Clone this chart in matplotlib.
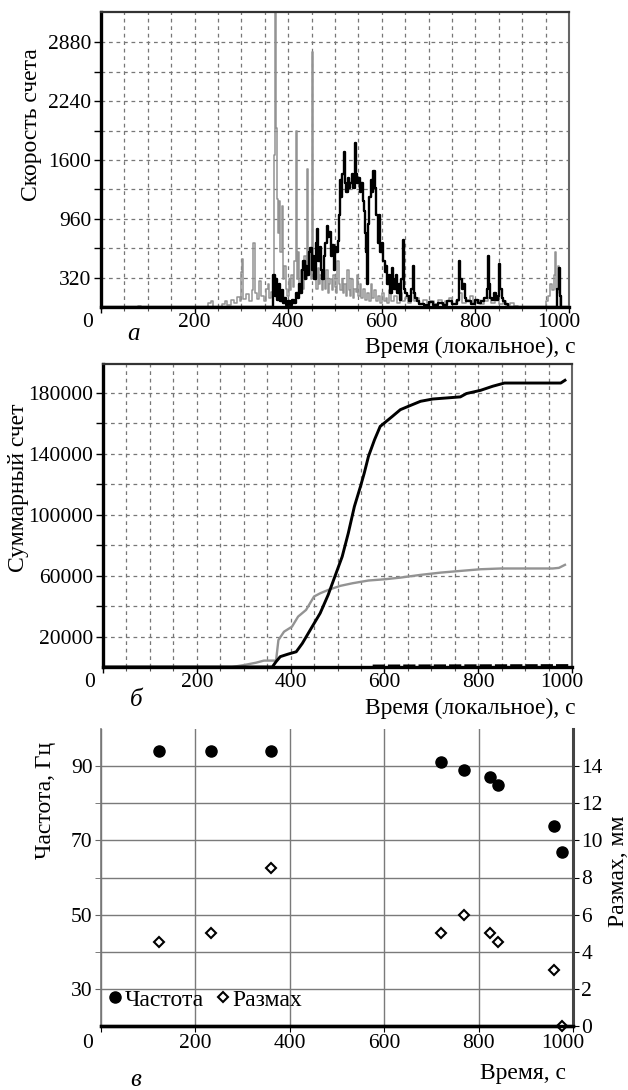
import matplotlib
matplotlib.use("Agg")
import matplotlib.pyplot as plt
import matplotlib.transforms as mtransforms

plt.rcParams['font.family'] = ['Liberation Serif', 'DejaVu Serif']
plt.rcParams['font.size'] = 15.5

# ---- panel a: count rate (gray and black detectors) ----
gray_t = [0, 80, 86, 228, 234, 240, 258, 265, 270, 278, 284, 290, 296, 300, 302, 304, 310, 316,
          322, 325, 328, 334, 338, 342, 348, 352, 356, 360, 364, 368, 370, 372, 373, 375, 378,
          380, 383, 386, 389, 392, 395, 398, 401, 404, 407, 410, 413, 416, 418, 421, 424, 428,
          431, 434, 437, 440, 442, 445, 448, 450, 452, 454, 457, 460, 463, 466, 469, 472, 475,
          478, 481, 484, 487, 490, 493, 496, 499, 502, 505, 508, 511, 514, 517, 520, 523, 526,
          529, 532, 535, 538, 541, 544, 547, 550, 553, 556, 560, 564, 568, 572, 576, 580, 584,
          588, 592, 596, 600, 604, 608, 612, 616, 620, 626, 632, 638, 644, 650, 656, 662, 668,
          674, 680, 688, 696, 704, 712, 720, 728, 736, 744, 750, 758, 766, 772, 780, 788, 794,
          802, 810, 818, 826, 834, 842, 850, 858, 866, 874, 882, 890, 950, 955, 960, 964, 968,
          971, 973, 976, 978, 981, 1000]
gray_v = [0, 15, 0, 40, 60, 0, 30, 60, 20, 80, 40, 110, 60, 380, 520, 90, 140, 60,
          180, 700, 150, 90, 280, 120, 60, 200, 250, 100, 160, 300, 1650, 3300, 1950, 1180, 800,
          1150, 600, 1100, 300, 450, 200, 120, 300, 180, 350, 220, 500, 1920, 300, 600, 250, 400,
          200, 550, 300, 1500, 400, 600, 300, 2780, 1850, 500, 350, 200, 420, 250, 350, 180, 300,
          200, 400, 150, 250, 300, 180, 350, 220, 150, 500, 250, 180, 300, 150, 250, 120, 400,
          180, 120, 300, 100, 200, 160, 350, 120, 250, 100, 200, 80, 150, 60, 250, 100, 180,
          60, 120, 40, 150, 60, 100, 40, 180, 60, 120, 40, 150, 60, 100, 40, 150, 60,
          100, 30, 80, 40, 60, 30, 80, 30, 60, 100, 30, 60, 150, 40, 80, 120, 40,
          80, 30, 60, 100, 40, 80, 30, 60, 20, 40, 10, 0, 60, 120, 250, 180, 350,
          600, 200, 450, 150, 0, 0]

black_t = [0, 368, 371, 374, 377, 380, 383, 386, 389, 392, 396, 400, 404, 408, 412, 416, 420,
           423, 426, 429, 432, 435, 438, 441, 444, 447, 450, 453, 456, 459, 461, 464, 467, 470,
           473, 476, 479, 482, 485, 488, 491, 494, 497, 500, 503, 506, 509, 511, 513, 516, 519,
           521, 524, 527, 530, 533, 536, 539, 542, 544, 547, 550, 553, 556, 559, 562, 564, 566,
           568, 570, 573, 576, 579, 582, 585, 588, 591, 594, 597, 600, 603, 606, 609, 612, 615,
           618, 621, 624, 627, 630, 633, 636, 639, 642, 645, 647, 650, 654, 658, 662, 666, 668,
           672, 676, 680, 690, 700, 710, 720, 730, 740, 750, 760, 766, 768, 771, 774, 777, 780,
           790, 800, 806, 812, 818, 824, 827, 829, 832, 836, 840, 844, 848, 851, 853, 856, 860,
           864, 870, 972, 975, 978, 980, 983, 1000]
black_v = [0, 350, 120, 300, 80, 250, 60, 180, 40, 100, 20, 60, 20, 80, 40, 150, 100,
           250, 150, 400, 500, 300, 450, 350, 600, 640, 400, 550, 300, 700, 850, 500, 650, 400,
           300, 550, 700, 880, 760, 820, 550, 680, 400, 650, 600, 720, 1000, 1380, 1200, 1450, 1690,
           1350, 1250, 1400, 1300, 1350, 1450, 1300, 1780, 1450, 1350, 1400, 1250, 1350, 1150, 1050, 800, 600,
           250, 900, 1200, 1380, 1250, 1480, 1300, 1000, 700, 1000, 600, 700, 500, 380, 450, 250, 350,
           150, 420, 300, 200, 350, 150, 250, 80, 300, 730, 200, 150, 120, 60, 200, 450, 150,
           100, 60, 30, 20, 50, 20, 40, 20, 60, 30, 80, 500, 300, 200, 250, 100, 60,
           30, 80, 40, 60, 100, 200, 550, 250, 100, 80, 150, 80, 120, 470, 200, 100, 60,
           30, 0, 0, 200, 420, 120, 0, 0]

# ---- panel b: cumulative counts ----
cum_black_t = [0, 361, 369, 378, 395, 412, 425, 446, 463, 480, 497, 510, 523, 536, 549, 557, 566,
               579, 591, 604, 617, 634, 651, 677, 703, 762, 775, 805, 831, 856, 976, 985]
cum_black_v = [0, 0, 3500, 6800, 8500, 10000, 15500, 26500, 35300, 47300, 61600, 72500, 87900,
               105400, 118600, 127300, 138300, 149300, 158000, 161300, 164600, 169000, 171200,
               174500, 176000, 177400, 179600, 181700, 184400, 186500, 186500, 188300]
cum_gray_t = [0, 275, 301, 326, 343, 369, 374, 386, 403, 416, 433, 450, 463, 480, 506, 532, 566,
              600, 634, 677, 720, 762, 805, 848, 959, 972, 985]
cum_gray_v = [0, 0, 1300, 2800, 4200, 4200, 17700, 23200, 26500, 33100, 37500, 46300, 48400,
              50600, 53300, 55000, 56800, 57600, 58700, 60500, 62000, 63100, 64200, 64700, 64700,
              65100, 67100]
cum_low_t = [575, 700, 850, 1000]
cum_low_v = [600, 700, 800, 900]

# ---- panel c: frequency and amplitude ----
meas_t = [123, 233, 361, 720, 770, 824, 841, 959, 977]
freq_hz = [94, 94, 94, 91, 89, 87, 85, 74, 67]
amp_mm = [4.5, 5.0, 8.5, 5.0, 6.0, 5.0, 4.5, 3.0, 0.0]

W, H = 628, 1090
GRAY = '#939393'
LAB = 17
fig = plt.figure(figsize=(W / 100, H / 100), dpi=100)


def px_axes(l, t, r, b):
    return fig.add_axes([l / W, 1 - b / H, (r - l) / W, (b - t) / H])


def fig_text(x, y, s, **kw):
    fig.text(x / W, 1 - y / H, s, **kw)


def x_labels(ax, pad_px):
    ax.set_xticks([0, 200, 400, 600, 800, 1000])
    ax.set_xticklabels([])
    shift = {0: -13, 1000: -10}
    trans = mtransforms.blended_transform_factory(ax.transData, ax.transAxes)
    for v in [0, 200, 400, 600, 800, 1000]:
        tr = mtransforms.offset_copy(trans, fig=fig, x=shift.get(v, 0), y=-pad_px, units='dots')
        ax.text(v, 0, str(v), transform=tr, ha='center', va='top', fontsize=15.5)


def style_top_panels(ax):
    ax.set_xlim(0, 1000)
    for s in ['left', 'bottom']:
        ax.spines[s].set_linewidth(2.4)
        ax.spines[s].set_color('black')
    ax.spines['top'].set_linewidth(1.6)
    ax.spines['top'].set_color('#333333')
    ax.spines['right'].set_linewidth(1.5)
    ax.spines['right'].set_color('#666666')
    ax.set_xticks(range(0, 1001, 50), minor=True)
    ax.tick_params(axis='x', which='major', length=4, width=1, direction='out')
    ax.tick_params(axis='x', which='minor', length=3, width=0.8, direction='out', color='#555555')
    ax.tick_params(axis='y', which='both', length=5, width=1, direction='out', pad=2)
    ax.grid(True, which='both', linestyle=(0, (3, 3)), color='#777777', linewidth=0.9)
    ax.set_axisbelow(True)


# panel a
ax_a = px_axes(101, 12, 569, 307)
ax_a.step(gray_t, gray_v, where='post', color=GRAY, lw=1.1)
ax_a.step(black_t, black_v, where='post', color='black', lw=1.7)
ax_a.set_ylim(0, 3210)
ax_a.set_yticks([320, 960, 1600, 2240, 2880])
ax_a.set_yticks([640, 1280, 1920, 2560], minor=True)
style_top_panels(ax_a)
x_labels(ax_a, 6)
fig_text(32, 125, 'Скорость счета', rotation=90, ha='center', va='center', fontsize=LAB)
fig_text(576, 347, 'Время (локальное), с', ha='right', va='center', fontsize=LAB)
fig_text(133, 334, 'а', ha='center', va='center', fontsize=LAB + 1, style='italic')

# panel b
ax_b = px_axes(103, 364, 572, 667)
ax_b.plot(cum_gray_t, cum_gray_v, color=GRAY, lw=1.7)
ax_b.plot(cum_black_t, cum_black_v, color='black', lw=2.1)
ax_b.plot(cum_low_t, cum_low_v, color='black', lw=2.2, linestyle=(0, (4, 1)))
ax_b.set_ylim(0, 199000)
ax_b.set_yticks([20000, 60000, 100000, 140000, 180000])
ax_b.set_yticks([40000, 80000, 120000, 160000], minor=True)
style_top_panels(ax_b)
x_labels(ax_b, 6)
fig_text(19, 488, 'Суммарный счет', rotation=90, ha='center', va='center', fontsize=LAB)
fig_text(576, 708, 'Время (локальное), с', ha='right', va='center', fontsize=LAB)
fig_text(136, 700, 'б', ha='center', va='center', fontsize=LAB + 1, style='italic')

# panel c
ax_c = px_axes(101, 729, 573, 1026)
ax_r = ax_c.twinx()
ax_c.set_xlim(0, 1000)
ax_c.set_ylim(20, 100)
ax_r.set_ylim(0, 16)
ax_c.set_yticks([30, 50, 70, 90])
ax_c.set_yticks([40, 60, 80], minor=True)
ax_r.set_yticks(range(0, 15, 2))
ax_c.grid(True, which='both', color='#7a7a7a', linewidth=1.0)
ax_c.set_axisbelow(True)
ax_c.plot(meas_t, freq_hz, 'o', color='black', ms=8, label='Частота', clip_on=False)
ax_r.plot(meas_t, amp_mm, 'D', mfc='white', mec='black', mew=1.5, ms=5.5, label='Размах',
          clip_on=False)
for a in (ax_c, ax_r):
    a.spines['top'].set_visible(False)
ax_c.spines['left'].set_color('#777777')
ax_c.spines['left'].set_linewidth(1.2)
ax_c.spines['bottom'].set_linewidth(2.4)
ax_r.spines['bottom'].set_linewidth(2.4)
ax_r.spines['right'].set_linewidth(2.2)
ax_r.spines['right'].set_color('#444444')
ax_r.spines['left'].set_visible(False)
ax_c.tick_params(axis='y', which='both', length=4, direction='out', pad=2, color='#666666')
ax_c.tick_params(axis='x', length=4, direction='out')
ax_r.tick_params(axis='y', length=4, direction='out', pad=2)
x_labels(ax_c, 8)
h1, l1 = ax_c.get_legend_handles_labels()
h2, l2 = ax_r.get_legend_handles_labels()
ax_r.legend(h1 + h2, l1 + l2, loc='lower left', bbox_to_anchor=(-0.005, 0.02), ncol=2,
            frameon=False, handlelength=0.6, handletextpad=0.1, columnspacing=0.5,
            borderaxespad=0, fontsize=LAB)
fig_text(45, 800, 'Частота, Гц', rotation=90, ha='center', va='center', fontsize=LAB)
fig_text(618, 871, 'Размах, мм', rotation=90, ha='center', va='center', fontsize=LAB)
fig_text(566, 1073, 'Время, с', ha='right', va='center', fontsize=LAB)
fig_text(136, 1080, 'в', ha='center', va='center', fontsize=LAB + 1, style='italic')

fig.savefig('out.png', dpi=100)
